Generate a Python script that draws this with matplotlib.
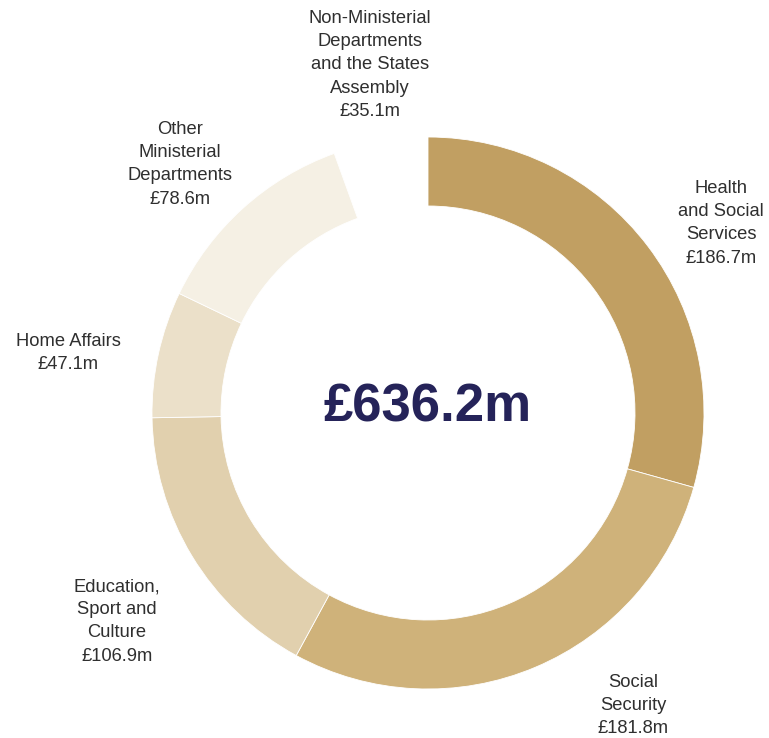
import matplotlib
matplotlib.use("Agg")
import matplotlib.pyplot as plt

categories = ["Health\nand Social\nServices", "Social\nSecurity", "Education,\nSport and\nCulture",
              "Home Affairs", "Other\nMinisterial\nDepartments",
              "Non-Ministerial\nDepartments\nand the States\nAssembly"]
values = [186.7, 181.8, 106.9, 47.1, 78.6, 35.1]
value_labels = ["£186.7m", "£181.8m", "£106.9m", "£47.1m", "£78.6m", "£35.1m"]
total_label = "£636.2m"

colors = ["#C19F62", "#CFB27A", "#E1D0AE", "#EBE0C9", "#F5F0E4", "none"]
# label positions in pixel coords (x, top y)
label_pos = [(721, 180), (633, 674), (117, 578), (68, 333), (180, 121), (370, 10)]

W, H = 769, 738
fig = plt.figure(figsize=(W / 100, H / 100), dpi=100)
ax = fig.add_axes([0, 0, 1, 1])

cx, cy, R = 428, H - 413, 276
wedges, _ = ax.pie(values, colors=colors, startangle=90, counterclock=False,
                   center=(cx, cy), radius=R, frame=True,
                   wedgeprops=dict(width=69, edgecolor="white", linewidth=0.6))
wedges[-1].set_edgecolor("none")
ax.set_xlim(0, W)
ax.set_ylim(0, H)
ax.set_aspect("equal")
ax.axis("off")

fam = ["Liberation Sans", "DejaVu Sans"]
for cat, val, (x, y) in zip(categories, value_labels, label_pos):
    ax.text(x, H - y, cat + "\n" + val, ha="center", va="top", fontsize=13.2,
            color="#2f2f2f", linespacing=1.48, family=fam)

ax.text(cx, H - 408, total_label, ha="center", va="center", fontsize=38,
        fontweight="bold", color="#252359", family=fam)

fig.savefig("out.png", dpi=100, facecolor="white")
